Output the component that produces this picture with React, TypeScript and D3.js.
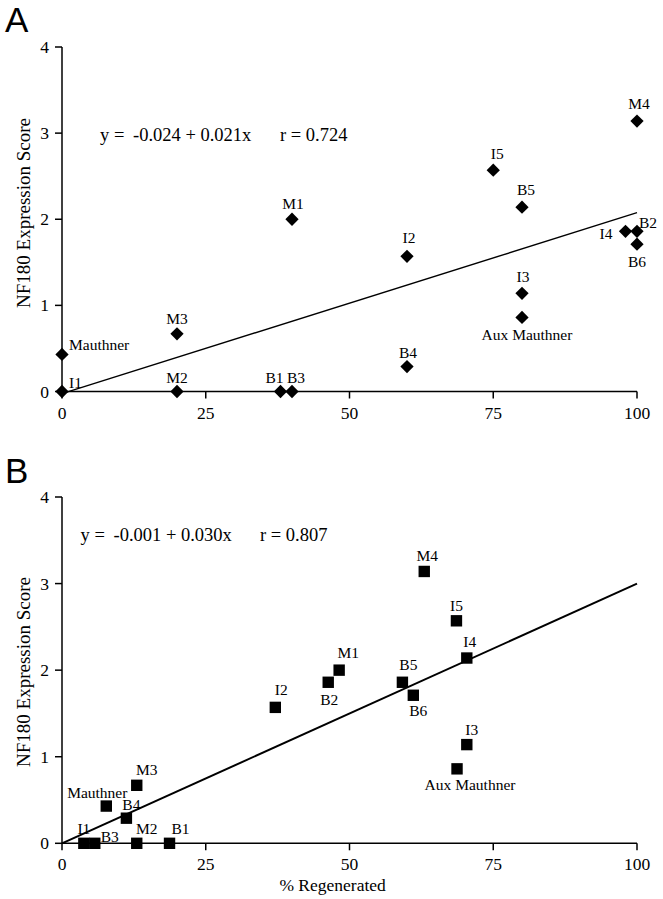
import React from "react";
import * as d3 from "d3";

// Panel A: expression score vs % regenerated (diamonds)
const namesA = ["I1", "Mauthner", "M3", "M2", "B1", "B3", "M1", "I2", "B4", "I5", "B5", "I3", "Aux Mauthner", "M4", "I4", "B2", "B6"];
const regenA = [0, 0, 20, 20, 38, 40, 40, 60, 60, 75, 80, 80, 80, 100, 98, 100, 100];
const scoreA = [0, 0.43, 0.67, 0, 0, 0, 2.0, 1.57, 0.29, 2.57, 2.14, 1.14, 0.86, 3.14, 1.86, 1.86, 1.71];
const fitA = [-0.024, 0.021];
const rA = 0.724;

// Panel B (squares)
const namesB = ["I1", "B3", "M2", "B1", "Mauthner", "B4", "M3", "I2", "B2", "M1", "B5", "B6", "M4", "I5", "I4", "I3", "Aux Mauthner"];
const regenB = [3.8, 5.7, 13, 18.7, 7.7, 11.2, 13, 37.1, 46.3, 48.2, 59.2, 61.1, 63.0, 68.6, 70.4, 70.4, 68.7];
const scoreB = [0, 0, 0, 0, 0.43, 0.29, 0.67, 1.57, 1.86, 2.0, 1.86, 1.71, 3.14, 2.57, 2.14, 1.14, 0.86];
const fitB = [-0.001, 0.030];
const rB = 0.807;

const xTicks = [0, 25, 50, 75, 100];
const yTicks = [0, 1, 2, 3, 4];

// label placement: [dx, dy (baseline), anchor]
type Place = [number, number, string];
const placeA: Record<string, Place> = {
  "I1": [7, -4, "start"],
  "Mauthner": [7, -4, "start"],
  "M3": [0, -10, "middle"],
  "M2": [0, -9, "middle"],
  "B1": [-6, -9, "middle"],
  "B3": [4, -9, "middle"],
  "M1": [1, -10, "middle"],
  "I2": [2, -13, "middle"],
  "B4": [1, -9, "middle"],
  "I5": [4, -11, "middle"],
  "B5": [4, -12, "middle"],
  "I3": [1, -11, "middle"],
  "Aux Mauthner": [5, 23, "middle"],
  "M4": [2, -12, "middle"],
  "I4": [-13, 8, "end"],
  "B2": [2, -3, "start"],
  "B6": [0, 23, "middle"],
};
const placeB: Record<string, Place> = {
  "I1": [0, -9, "middle"],
  "B3": [6, -1, "start"],
  "M2": [10, -9, "middle"],
  "B1": [11, -9, "middle"],
  "Mauthner": [-9, -8, "middle"],
  "B4": [5, -8, "middle"],
  "M3": [10, -10, "middle"],
  "I2": [6, -12, "middle"],
  "B2": [1, 23, "middle"],
  "M1": [9, -12, "middle"],
  "B5": [6, -12, "middle"],
  "B6": [5, 21, "middle"],
  "M4": [3, -10, "middle"],
  "I5": [0, -10, "middle"],
  "I4": [3, -11, "middle"],
  "I3": [5, -10, "middle"],
  "Aux Mauthner": [13, 21, "middle"],
};

const serif = "'Liberation Serif', 'Times New Roman', serif";
const sans = "'Liberation Sans', Arial, sans-serif";

type PanelProps = {
  letter: string;
  letterY: number;
  yBottom: number;
  yTop: number;
  names: string[];
  xs: number[];
  ys: number[];
  diamond: boolean;
  place: Record<string, Place>;
  fit: number[];
  r: number;
  eqX: number[];
  eqY: number;
  titleY: number;
  lineW: number;
};

function Panel(p: PanelProps) {
  const x = d3.scaleLinear().domain([0, 100]).range([62, 637]);
  const y = d3.scaleLinear().domain([0, 4]).range([p.yBottom, p.yTop]);
  const marker = p.diamond
    ? d3.symbol(d3.symbolSquare, 88)()
    : d3.symbol(d3.symbolSquare, 130)();
  const line = d3.line<number>().x((d) => x(d)).y((d) => y(p.fit[0] + p.fit[1] * d));
  const y0 = y(0);

  return (
    <g>
      <text x={5} y={p.letterY} fontFamily={sans} fontSize={35}>{p.letter}</text>

      {/* y axis */}
      <line x1={x(0)} x2={x(0)} y1={y(0)} y2={y(4)} stroke="#000" strokeWidth={1.5} />
      {yTicks.map((t) => (
        <g key={"y" + t}>
          <line x1={x(0) - 7} x2={x(0)} y1={y(t)} y2={y(t)} stroke="#000" strokeWidth={1.5} />
          <text x={49} y={y(t) + 6} textAnchor="end" fontFamily={serif} fontSize={17.5}>{t}</text>
        </g>
      ))}
      {/* x axis */}
      <line x1={x(0)} x2={x(100)} y1={y0} y2={y0} stroke="#000" strokeWidth={1.5} />
      {xTicks.map((t) => (
        <g key={"x" + t}>
          <line x1={x(t)} x2={x(t)} y1={y0} y2={y0 + 7} stroke="#000" strokeWidth={1.5} />
          <text x={x(t)} y={y0 + 27} textAnchor="middle" fontFamily={serif} fontSize={17.5}>{t}</text>
        </g>
      ))}

      <text
        transform={`translate(30,${p.titleY}) rotate(-90)`}
        textAnchor="middle"
        fontFamily={serif}
        fontSize={19}
      >
        NF180 Expression Score
      </text>

      {/* regression */}
      <path d={line([0, 100]) || ""} fill="none" stroke="#000" strokeWidth={p.lineW} />

      <text y={p.eqY} fontFamily={serif} fontSize={18.5}>
        <tspan x={p.eqX[0]}>y =</tspan>
        <tspan x={p.eqX[1]}>{`${p.fit[0].toFixed(3)} + ${p.fit[1].toFixed(3)}x`}</tspan>
        <tspan x={p.eqX[2]}>{`r = ${p.r.toFixed(3)}`}</tspan>
      </text>

      {p.names.map((n, i) => {
        const cx = x(p.xs[i]);
        const cy = y(p.ys[i]);
        const pl = p.place[n];
        return (
          <g key={n}>
            <path d={marker || ""} transform={`translate(${cx},${cy})${p.diamond ? " rotate(45)" : ""}`} fill="#000" />
            <text x={cx + pl[0]} y={cy + pl[1]} textAnchor={pl[2] as any} fontFamily={serif} fontSize={15.5}>{n}</text>
          </g>
        );
      })}
    </g>
  );
}

export default function App() {
  return (
    <svg
      width={663}
      height={899}
      style={{ position: "absolute", left: 0, top: 0, background: "#fff" }}
    >
      <rect width={663} height={899} fill="#fff" />
      <Panel
        letter="A"
        letterY={32}
        yBottom={391.5}
        yTop={47}
        names={namesA}
        xs={regenA}
        ys={scoreA}
        diamond={true}
        place={placeA}
        fit={fitA}
        r={rA}
        eqX={[100, 133, 280]}
        eqY={141}
        titleY={213}
        lineW={1.4}
      />
      <Panel
        letter="B"
        letterY={483}
        yBottom={843.3}
        yTop={497}
        names={namesB}
        xs={regenB}
        ys={scoreB}
        diamond={false}
        place={placeB}
        fit={fitB}
        r={rB}
        eqX={[80.5, 113.5, 260]}
        eqY={540.7}
        titleY={672}
        lineW={2}
      />
      <text x={332.6} y={891} textAnchor="middle" fontFamily={serif} fontSize={17.5}>% Regenerated</text>
    </svg>
  );
}
